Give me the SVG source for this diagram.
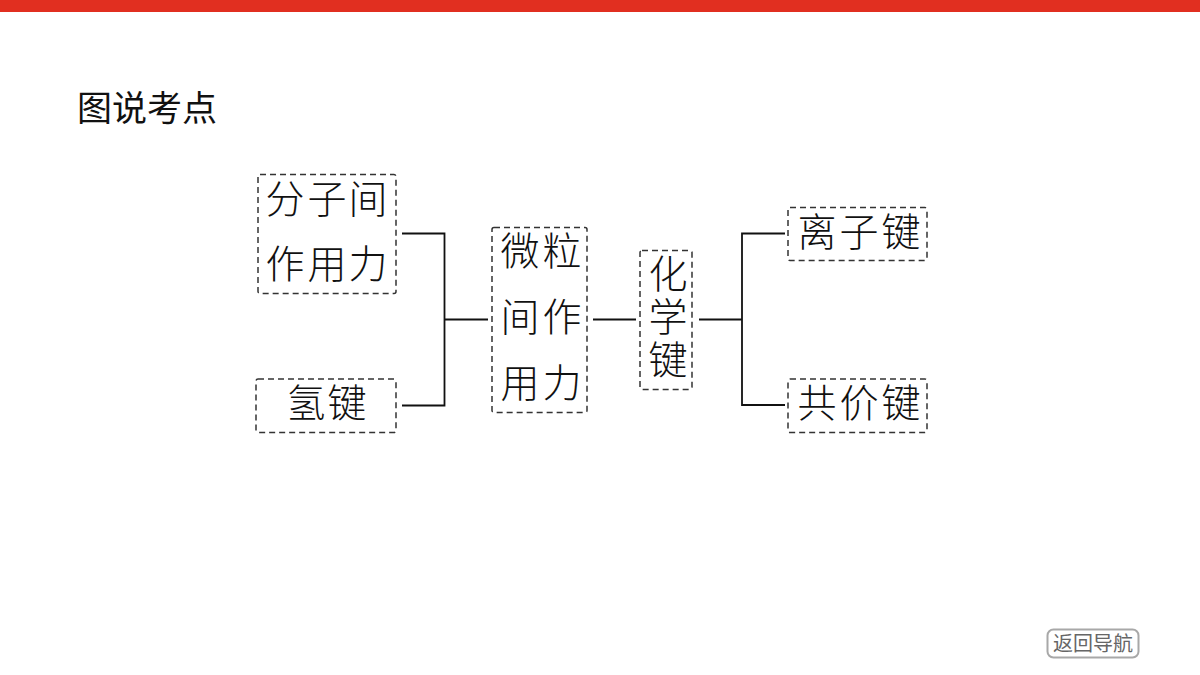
<svg xmlns="http://www.w3.org/2000/svg" width="1200" height="675" viewBox="0 0 1200 675">
<style>
text{font-family:"Noto Sans CJK SC","Noto Sans",sans-serif;fill:#111}
.b{fill:none;stroke:#333;stroke-width:1.5;stroke-dasharray:6 4}
.t{font-size:39px;text-anchor:middle;font-weight:300}
.c{fill:none;stroke:#111;stroke-width:1.8}
</style>
<rect width="1200" height="675" fill="#fff"/>
<rect id="top-bar" x="0" y="0" width="1200" height="12" fill="#e12f20"/>
<text id="title" x="77" y="121" font-size="35" font-weight="400">图说考点</text>
<g id="connectors">
<path class="c" d="M402 233.500H444.500V405.500H402M444.500 319.500H488"/>
<path class="c" d="M593 319.500H636M699 319.500H742"/>
<path class="c" d="M785 233.500H742V405H785"/>
</g>
<g id="node-fenzi">
<rect class="b" x="258" y="174.500" width="138" height="119" rx="2"/>
<text class="t" x="285 327 368" y="213">分子间</text>
<text class="t" x="285 327 368" y="278">作用力</text>
</g>
<g id="node-qing">
<rect class="b" x="256" y="379" width="140" height="53.500" rx="2"/>
<text class="t" x="306 347" y="417">氢键</text>
</g>
<g id="node-weili">
<rect class="b" x="492" y="227.500" width="95" height="185" rx="2"/>
<text class="t" x="520 562" y="265">微粒</text>
<text class="t" x="520 562" y="331">间作</text>
<text class="t" x="520 562" y="397">用力</text>
</g>
<g id="node-huaxue">
<rect class="b" x="640" y="250.500" width="52" height="139" rx="2"/>
<text class="t" x="668" y="254" style="writing-mode:vertical-rl;text-anchor:start;letter-spacing:4px">化学键</text>
</g>
<g id="node-lizi">
<rect class="b" x="788" y="207.500" width="139" height="53" rx="2"/>
<text class="t" x="817 859 901" y="246">离子键</text>
</g>
<g id="node-gongjia">
<rect class="b" x="788" y="379" width="139" height="53.500" rx="2"/>
<text class="t" x="817 859 901" y="417">共价键</text>
</g>
<g id="nav-button">
<rect x="1047.500" y="629.500" width="91" height="28" rx="6" fill="#fff" stroke="#a8a8a8" stroke-width="2"/>
<text x="1093" y="651" font-size="20" text-anchor="middle" style="fill:#666">返回导航</text>
</g>
</svg>
